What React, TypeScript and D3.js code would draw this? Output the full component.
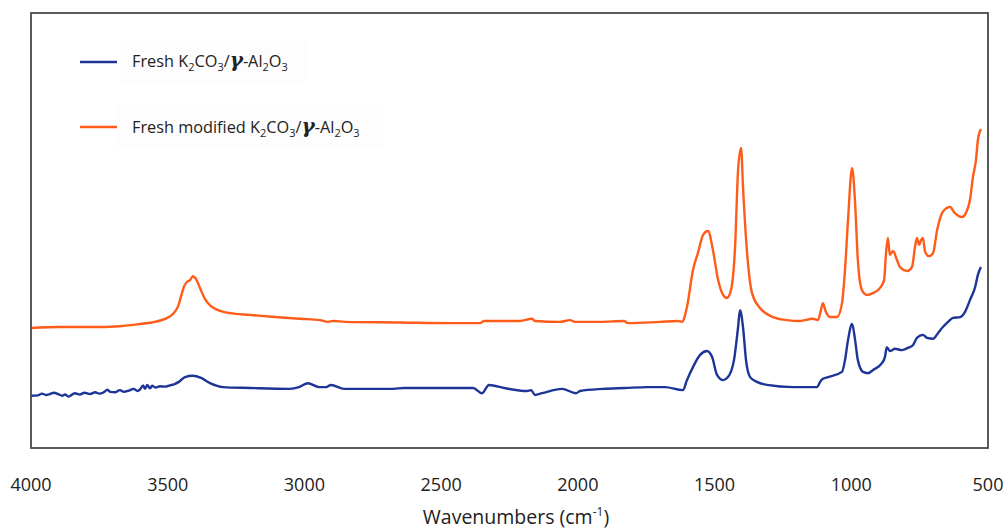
import React from "react";
import * as d3 from "d3";

// Wavenumber (cm-1) and absorbance (a.u.)
const freshWn = [4000, 3975, 3960, 3945, 3931, 3915, 3901, 3885, 3876, 3862, 3854, 3840, 3821, 3805, 3784, 3765, 3750, 3737, 3720, 3711, 3693, 3675, 3660, 3642, 3625, 3610, 3601, 3590, 3583, 3575, 3565, 3557, 3545, 3528, 3510, 3492, 3475, 3459, 3437, 3408, 3378, 3345, 3298, 3199, 3053, 3020, 2987, 2947, 2921, 2903, 2855, 2676, 2636, 2482, 2383, 2351, 2325, 2270, 2186, 2171, 2157, 2131, 2058, 2007, 1992, 1908, 1828, 1747, 1681, 1616, 1601, 1579, 1553, 1528, 1509, 1491, 1469, 1451, 1429, 1414, 1407, 1396, 1385, 1370, 1345, 1308, 1213, 1125, 1114, 1104, 1085, 1034, 1023, 1012, 997, 986, 976, 957, 939, 921, 888, 877, 870, 859, 840, 815, 793, 774, 760, 738, 723, 701, 683, 665, 646, 628, 602, 584, 566, 547, 537, 526];
const freshAbs = [12.0, 12.1, 12.5, 12.2, 12.4, 12.7, 12.4, 12.0, 12.3, 11.8, 12.1, 12.6, 12.3, 12.7, 12.4, 12.8, 12.5, 12.7, 13.4, 12.9, 12.8, 13.3, 12.9, 13.2, 13.6, 13.1, 13.5, 14.4, 13.6, 14.5, 13.7, 14.3, 13.9, 14.2, 14.1, 14.4, 14.7, 15.2, 16.3, 16.6, 16.1, 14.9, 14.0, 13.8, 13.6, 14.0, 14.9, 14.0, 14.0, 14.5, 13.6, 13.6, 13.8, 13.8, 13.8, 12.6, 14.5, 13.8, 13.1, 13.3, 12.2, 12.6, 13.6, 12.6, 13.1, 13.6, 13.8, 14.0, 14.0, 13.3, 15.6, 18.6, 21.4, 22.3, 20.9, 16.8, 15.6, 16.3, 20.2, 27.8, 31.7, 27.8, 20.2, 16.3, 15.2, 14.5, 14.0, 14.0, 15.2, 15.9, 16.3, 17.5, 20.2, 24.8, 28.5, 24.8, 20.2, 17.5, 17.2, 17.9, 19.5, 20.9, 23.2, 22.3, 22.8, 22.5, 23.0, 23.7, 25.3, 26.0, 25.3, 25.1, 26.4, 27.8, 29.0, 29.9, 30.1, 31.3, 34.0, 37.0, 39.8, 41.6];

const modifiedWn = [4000, 3894, 3784, 3675, 3601, 3547, 3510, 3481, 3462, 3451, 3440, 3429, 3418, 3408, 3397, 3382, 3364, 3342, 3316, 3272, 3199, 3108, 3016, 2943, 2914, 2895, 2852, 2650, 2468, 2358, 2343, 2212, 2168, 2157, 2065, 2029, 2010, 1919, 1831, 1817, 1700, 1634, 1619, 1601, 1579, 1561, 1542, 1524, 1506, 1487, 1469, 1455, 1440, 1425, 1414, 1403, 1396, 1381, 1363, 1334, 1286, 1235, 1188, 1140, 1122, 1111, 1104, 1093, 1078, 1052, 1034, 1023, 1012, 997, 986, 976, 961, 943, 921, 895, 880, 873, 866, 859, 847, 833, 822, 796, 778, 767, 760, 752, 745, 738, 730, 716, 701, 686, 668, 650, 639, 621, 595, 581, 566, 555, 544, 537, 526];
const modifiedAbs = [27.6, 27.8, 27.8, 28.0, 28.5, 29.0, 29.7, 30.8, 32.6, 34.9, 37.2, 38.2, 38.6, 39.5, 38.9, 36.8, 34.3, 32.6, 31.7, 31.0, 30.6, 30.1, 29.7, 29.4, 29.0, 29.2, 29.0, 28.85, 28.7, 28.7, 29.2, 29.2, 29.7, 29.2, 29.0, 29.4, 29.0, 29.0, 29.2, 28.7, 29.0, 29.2, 29.0, 32.4, 40.9, 44.8, 49.0, 49.9, 45.5, 38.6, 35.2, 34.5, 36.3, 46.2, 63.9, 69.0, 60.0, 44.8, 35.6, 32.2, 30.1, 29.4, 29.2, 29.7, 29.4, 31.7, 33.3, 31.3, 30.1, 30.1, 33.3, 40.9, 52.4, 64.4, 56.3, 43.2, 36.3, 35.2, 35.6, 36.8, 38.6, 44.8, 48.3, 44.4, 45.3, 43.2, 41.6, 40.7, 41.6, 46.2, 48.3, 46.7, 47.8, 48.3, 45.1, 44.1, 44.8, 50.1, 54.0, 55.2, 55.4, 54.0, 53.1, 54.0, 57.0, 62.3, 66.2, 70.8, 73.3];

const xTicks = [4000, 3500, 3000, 2500, 2000, 1500, 1000, 500];

const W = 1005;
const H = 531;
const left = 31, right = 988, top = 13, bottom = 448;
const FONT = "'Open Sans', 'Noto Sans', sans-serif";

type Pt = [number, number];

export default function App() {
  const x = d3.scaleLinear().domain([4000, 500]).range([left, right]);
  const y = d3.scaleLinear().domain([0, 100]).range([bottom, top]);
  const line = d3
    .line<Pt>()
    .x((d) => x(d[0]))
    .y((d) => y(d[1]))
    .curve(d3.curveMonotoneX);

  const fresh: Pt[] = freshWn.map((w, i) => [w, freshAbs[i]]);
  const modified: Pt[] = modifiedWn.map((w, i) => [w, modifiedAbs[i]]);

  const blue = "#1d3597";
  const orange = "#ff5c19";

  const chem = (prefix: string) => (
    <>
      <tspan>{prefix}K</tspan>
      <tspan dy={4} fontSize={11}>2</tspan>
      <tspan dy={-4}>CO</tspan>
      <tspan dy={4} fontSize={11}>3</tspan>
      <tspan dy={-4}>/</tspan>
      <tspan fontWeight="bold" fontStyle="italic" fontSize={20} fontFamily="'DejaVu Serif', serif">γ</tspan>
      <tspan>-Al</tspan>
      <tspan dy={4} fontSize={11}>2</tspan>
      <tspan dy={-4}>O</tspan>
      <tspan dy={4} fontSize={11}>3</tspan>
    </>
  );

  return (
    <svg
      width={W}
      height={H}
      style={{ position: "absolute", left: 0, top: 0, background: "#fff" }}
      fontFamily={FONT}
    >
      <rect x={0} y={0} width={W} height={H} fill="#fff" />
      {/* legend backgrounds */}
      <rect x={120} y={40} width={188} height={42} fill="#fdfdfd" />
      <rect x={118} y={105} width={266} height={45} fill="#fdfdfd" />

      <path d={line(modified) || ""} fill="none" stroke={orange} strokeWidth={2.4} strokeLinejoin="round" />
      <path d={line(fresh) || ""} fill="none" stroke={blue} strokeWidth={2.4} strokeLinejoin="round" />

      <rect x={left} y={top} width={right - left} height={bottom - top} fill="none" stroke="#4a4a4a" strokeWidth={1.8} />

      {/* legend */}
      <line x1={80} x2={117} y1={62} y2={62} stroke={blue} strokeWidth={2.6} />
      <text x={132} y={67} fontSize={16.3} fill="#222">{chem("Fresh ")}</text>
      <line x1={80} x2={117} y1={127} y2={127} stroke={orange} strokeWidth={2.6} />
      <text x={132} y={133} fontSize={16.3} fill="#222">{chem("Fresh modified ")}</text>

      {/* x tick labels */}
      {xTicks.map((t) => (
        <text key={t} x={x(t)} y={491} textAnchor="middle" fontSize={18} fill="#222">
          {t}
        </text>
      ))}
      <text x={516} y={524} textAnchor="middle" fontSize={19.5} fill="#222">
        <tspan>Wavenumbers (cm</tspan>
        <tspan dy={-8} fontSize={12}>-1</tspan>
        <tspan dy={8}>)</tspan>
      </text>
    </svg>
  );
}
